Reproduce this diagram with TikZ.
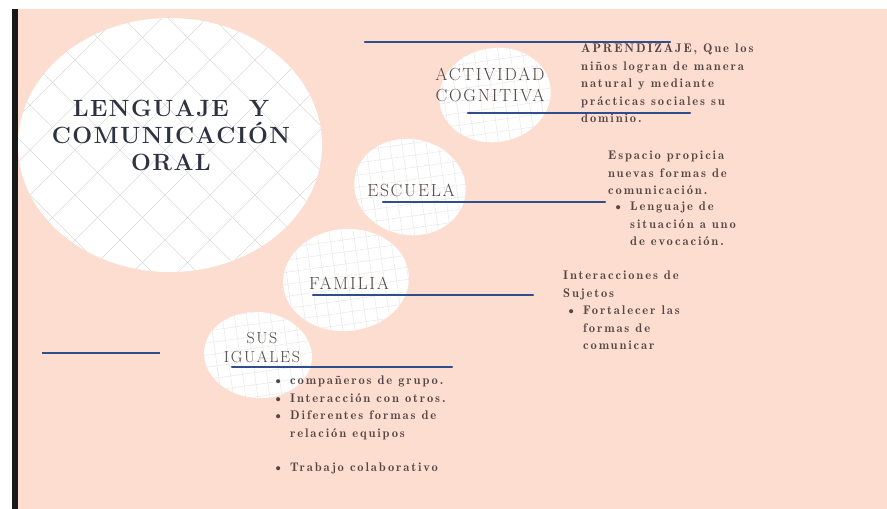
\documentclass[tikz,border=0pt]{standalone}
\usepackage{fontspec}
\setmainfont{Latin Modern Roman}
\newfontfamily\demi{Latin Modern Roman Demi}[LetterSpace=15]
\newfontfamily\wide{Latin Modern Roman}[LetterSpace=10]
\newfontfamily\titlefont{Latin Modern Roman}[LetterSpace=6]
\usetikzlibrary{positioning}
\definecolor{peach}{RGB}{252,221,207}
\definecolor{ink}{RGB}{84,70,68}
\definecolor{slate}{RGB}{46,50,64}
\definecolor{navy}{RGB}{48,78,142}
\tikzset{
  head/.style={text=ink, font=\wide\fontsize{17.5}{21}\selectfont, align=center, inner sep=0pt},
  body/.style={text=ink, font=\demi\fontsize{12.5}{17.4}\selectfont, align=left,
    anchor=north west, inner sep=0pt},
  underline/.style={navy, line width=2.4pt, line cap=round},
  gridline/.style={black!9, line width=0.5pt},
}
\newcommand{\bul}{\llap{\textbullet\hspace{7pt}}}

\begin{document}
\begin{tikzpicture}[x=1pt, y=-1pt]
\useasboundingbox (0,0) rectangle (887,509);
\fill[white] (0,0) rectangle (887,509);
\fill[peach] (18,9) rectangle (887,509);

\begin{scope}
  \clip (170,145) ellipse [x radius=152, y radius=127];
  \fill[white] (0,0) rectangle (340,290);
  \foreach \k in {-300,-255,...,400} {
    \draw[black!14, line width=0.6pt] (\k,0) -- ++(300,300);
    \draw[black!14, line width=0.6pt] (\k,300) -- ++(300,-300);
  }
\end{scope}

\foreach \cx/\cy/\rx/\ry/\a in {495/95/56/47/10, 410/187/56/48/-10,
    346/280/63/51/5, 258/355/54/43/-5} {
  \begin{scope}
    \clip (\cx,\cy) ellipse [x radius=\rx, y radius=\ry, rotate=\a];
    \fill[white] (\cx-80,\cy-80) rectangle (\cx+80,\cy+80);
    \draw[gridline, step=12pt, rotate around={8:(\cx,\cy)}]
      (\cx-84,\cy-84) grid (\cx+84,\cy+84);
  \end{scope}
}

\fill[black!90] (12,9) rectangle (18,509);

\node (titulo) [text=slate, font=\titlefont\bfseries\fontsize{23.5}{27}\selectfont,
  align=center, inner sep=0pt] at (171,135) {LENGUAJE\ \ Y\\COMUNICACIÓN\\ORAL};

\node (actividad) [head] at (490,85) {ACTIVIDAD\\COGNITIVA};
\node (escuela) [head] at (411,190) {ESCUELA};
\node (familia) [head] at (349,283) {FAMILIA};
\node (iguales) [head, font=\wide\fontsize{16}{19}\selectfont] at (262,348) {SUS\\IGUALES};

\draw[underline] (365,42) -- (670,42);
\draw[underline] (468,113) -- (690,113);
\draw[underline] (383,202) -- (605,202);
\draw[underline] (313,295) -- (533,295);
\draw[underline] (232,367) -- (452,367);
\draw[navy, line width=1.4pt] (42,353) -- (160,353);

\node (aprendizaje) [body] at (581,44) {APRENDIZAJE, Que los\\niños logran de manera\\natural y
  mediante\\prácticas sociales su\\dominio.};
\node (espacio) [body] at (608,151) {Espacio propicia\\nuevas formas de\\comunicación.};
\node (lenguaje) [body] at (630,202) {\bul Lenguaje de\\situación a uno\\de evocación.};
\node (interacciones) [body] at (563,271) {Interacciones de\\Sujetos};
\node (fortalecer) [body] at (583,306) {\bul Fortalecer las\\formas de\\comunicar};
\node (companeros) [body] at (290,376) {\bul compañeros de grupo.\\\bul Interacción con
  otros.\\\bul Diferentes formas de\\relación equipos\\[17.4pt]\bul Trabajo colaborativo};
\end{tikzpicture}
\end{document}
